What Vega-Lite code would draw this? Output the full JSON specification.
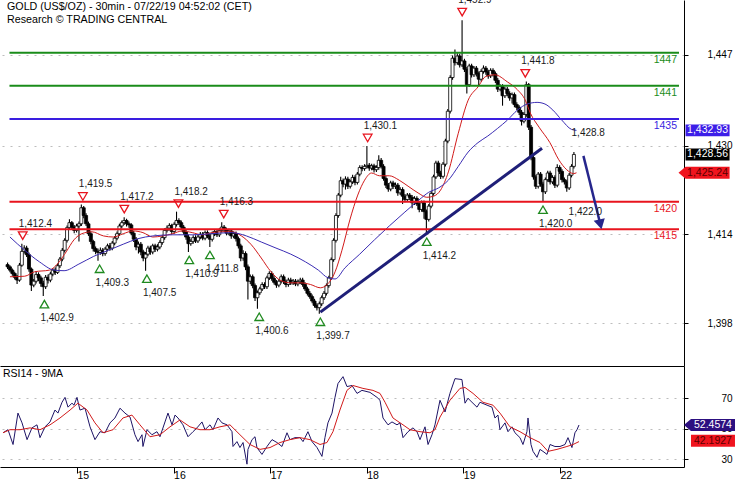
{
"$schema":"https://vega.github.io/schema/vega-lite/v6.json",
"background":"white",
"padding":0,
"spacing":0,
"config":{"view":{"stroke":null},"font":"Liberation Sans","axis":{"labelFont":"Liberation Sans","labelFontSize":10,"labelColor":"#000","domainColor":"#000","tickColor":"#000"}},
"datasets":{
"candles":[
{"t":0.230,"o":1408.6,"h":1409.0,"l":1407.8,"c":1408.2},
{"t":0.255,"o":1408.2,"h":1408.5,"l":1407.2,"c":1407.6},
{"t":0.280,"o":1407.6,"h":1407.9,"l":1406.6,"c":1407.0},
{"t":0.305,"o":1407.0,"h":1407.3,"l":1405.9,"c":1406.3},
{"t":0.330,"o":1406.3,"h":1406.7,"l":1405.1,"c":1405.8},
{"t":0.355,"o":1405.8,"h":1408.9,"l":1405.5,"c":1408.5},
{"t":0.380,"o":1408.5,"h":1412.4,"l":1408.2,"c":1411.0},
{"t":0.405,"o":1411.0,"h":1412.1,"l":1410.6,"c":1411.6},
{"t":0.430,"o":1411.6,"h":1412.0,"l":1410.0,"c":1410.4},
{"t":0.455,"o":1410.4,"h":1410.8,"l":1407.3,"c":1407.8},
{"t":0.480,"o":1407.8,"h":1408.1,"l":1403.8,"c":1404.9},
{"t":0.505,"o":1404.9,"h":1406.0,"l":1404.5,"c":1405.6},
{"t":0.530,"o":1405.6,"h":1407.4,"l":1405.2,"c":1406.8},
{"t":0.555,"o":1406.8,"h":1407.2,"l":1405.6,"c":1406.2},
{"t":0.580,"o":1406.2,"h":1406.6,"l":1404.6,"c":1405.2},
{"t":0.605,"o":1405.2,"h":1405.7,"l":1402.9,"c":1404.6},
{"t":0.630,"o":1404.6,"h":1406.7,"l":1404.2,"c":1406.3},
{"t":0.655,"o":1406.3,"h":1406.8,"l":1405.2,"c":1405.8},
{"t":0.680,"o":1405.8,"h":1407.3,"l":1405.4,"c":1406.9},
{"t":0.705,"o":1406.9,"h":1408.0,"l":1406.5,"c":1407.6},
{"t":0.730,"o":1407.6,"h":1408.1,"l":1406.7,"c":1407.2},
{"t":0.755,"o":1407.2,"h":1408.8,"l":1406.9,"c":1408.4},
{"t":0.780,"o":1408.4,"h":1410.0,"l":1408.0,"c":1409.6},
{"t":0.805,"o":1409.6,"h":1411.6,"l":1409.2,"c":1411.2},
{"t":0.830,"o":1411.2,"h":1413.4,"l":1410.8,"c":1413.0},
{"t":0.855,"o":1413.0,"h":1415.7,"l":1412.6,"c":1415.3},
{"t":0.880,"o":1415.3,"h":1416.8,"l":1414.9,"c":1416.2},
{"t":0.905,"o":1416.2,"h":1416.5,"l":1415.0,"c":1415.4},
{"t":0.930,"o":1415.4,"h":1415.8,"l":1414.3,"c":1414.8},
{"t":0.955,"o":1414.8,"h":1416.0,"l":1414.4,"c":1415.6},
{"t":0.980,"o":1415.6,"h":1416.4,"l":1412.8,"c":1416.0},
{"t":1.005,"o":1416.0,"h":1419.5,"l":1415.6,"c":1418.9},
{"t":1.030,"o":1418.9,"h":1419.2,"l":1417.0,"c":1417.5},
{"t":1.055,"o":1417.5,"h":1417.9,"l":1415.6,"c":1416.0},
{"t":1.080,"o":1416.0,"h":1416.4,"l":1413.8,"c":1414.2},
{"t":1.105,"o":1414.2,"h":1414.6,"l":1412.3,"c":1412.8},
{"t":1.130,"o":1412.8,"h":1413.1,"l":1411.0,"c":1411.5},
{"t":1.155,"o":1411.5,"h":1411.9,"l":1410.5,"c":1411.0},
{"t":1.180,"o":1411.0,"h":1411.5,"l":1409.3,"c":1410.8},
{"t":1.205,"o":1410.8,"h":1411.7,"l":1410.4,"c":1411.2},
{"t":1.230,"o":1411.2,"h":1411.6,"l":1410.1,"c":1410.6},
{"t":1.255,"o":1410.6,"h":1411.8,"l":1410.2,"c":1411.4},
{"t":1.280,"o":1411.4,"h":1412.4,"l":1411.0,"c":1412.0},
{"t":1.305,"o":1412.0,"h":1412.5,"l":1411.1,"c":1411.6},
{"t":1.330,"o":1411.6,"h":1412.9,"l":1411.2,"c":1412.5},
{"t":1.355,"o":1412.5,"h":1413.8,"l":1412.1,"c":1413.4},
{"t":1.380,"o":1413.4,"h":1414.6,"l":1413.0,"c":1414.2},
{"t":1.405,"o":1414.2,"h":1416.0,"l":1413.8,"c":1415.6},
{"t":1.430,"o":1415.6,"h":1416.6,"l":1415.2,"c":1416.2},
{"t":1.455,"o":1416.2,"h":1417.2,"l":1415.8,"c":1416.6},
{"t":1.480,"o":1416.6,"h":1416.9,"l":1415.5,"c":1416.0},
{"t":1.505,"o":1416.0,"h":1416.4,"l":1415.3,"c":1415.8},
{"t":1.530,"o":1415.8,"h":1416.1,"l":1413.9,"c":1414.3},
{"t":1.555,"o":1414.3,"h":1414.7,"l":1412.7,"c":1413.2},
{"t":1.580,"o":1413.2,"h":1413.6,"l":1411.2,"c":1411.8},
{"t":1.605,"o":1411.8,"h":1412.8,"l":1410.6,"c":1412.3},
{"t":1.630,"o":1412.3,"h":1412.7,"l":1410.3,"c":1410.9},
{"t":1.655,"o":1410.9,"h":1411.3,"l":1409.2,"c":1409.8},
{"t":1.680,"o":1409.8,"h":1410.9,"l":1407.5,"c":1410.5},
{"t":1.705,"o":1410.5,"h":1412.0,"l":1410.1,"c":1411.6},
{"t":1.730,"o":1411.6,"h":1412.0,"l":1410.4,"c":1410.9},
{"t":1.755,"o":1410.9,"h":1412.4,"l":1410.5,"c":1412.0},
{"t":1.780,"o":1412.0,"h":1412.4,"l":1410.9,"c":1411.4},
{"t":1.805,"o":1411.4,"h":1412.3,"l":1411.0,"c":1411.8},
{"t":1.830,"o":1411.8,"h":1413.0,"l":1411.4,"c":1412.6},
{"t":1.855,"o":1412.6,"h":1413.9,"l":1412.2,"c":1413.5},
{"t":1.880,"o":1413.5,"h":1415.2,"l":1413.1,"c":1414.8},
{"t":1.905,"o":1414.8,"h":1415.7,"l":1414.4,"c":1415.2},
{"t":1.930,"o":1415.2,"h":1416.1,"l":1414.8,"c":1415.7},
{"t":1.955,"o":1415.7,"h":1416.0,"l":1414.1,"c":1414.6},
{"t":1.980,"o":1414.6,"h":1416.3,"l":1414.2,"c":1415.9},
{"t":2.005,"o":1415.9,"h":1418.2,"l":1415.5,"c":1416.6},
{"t":2.030,"o":1416.6,"h":1417.0,"l":1415.8,"c":1416.2},
{"t":2.055,"o":1416.2,"h":1416.6,"l":1415.0,"c":1415.4},
{"t":2.080,"o":1415.4,"h":1415.8,"l":1414.0,"c":1414.5},
{"t":2.105,"o":1414.5,"h":1414.9,"l":1413.1,"c":1413.6},
{"t":2.130,"o":1413.6,"h":1414.0,"l":1410.9,"c":1412.4},
{"t":2.155,"o":1412.4,"h":1413.2,"l":1412.0,"c":1412.8},
{"t":2.180,"o":1412.8,"h":1413.9,"l":1412.4,"c":1413.5},
{"t":2.205,"o":1413.5,"h":1413.9,"l":1412.5,"c":1412.9},
{"t":2.230,"o":1412.9,"h":1414.0,"l":1412.5,"c":1413.6},
{"t":2.255,"o":1413.6,"h":1414.5,"l":1413.2,"c":1414.1},
{"t":2.280,"o":1414.1,"h":1414.5,"l":1413.0,"c":1413.4},
{"t":2.305,"o":1413.4,"h":1414.8,"l":1413.0,"c":1414.4},
{"t":2.330,"o":1414.4,"h":1414.8,"l":1413.4,"c":1413.8},
{"t":2.355,"o":1413.8,"h":1414.2,"l":1411.8,"c":1413.2},
{"t":2.380,"o":1413.2,"h":1414.6,"l":1412.8,"c":1414.2},
{"t":2.405,"o":1414.2,"h":1415.0,"l":1413.8,"c":1414.6},
{"t":2.430,"o":1414.6,"h":1415.0,"l":1413.6,"c":1414.0},
{"t":2.455,"o":1414.0,"h":1415.2,"l":1413.6,"c":1414.8},
{"t":2.480,"o":1414.8,"h":1416.3,"l":1414.4,"c":1415.4},
{"t":2.505,"o":1415.4,"h":1415.8,"l":1414.5,"c":1414.9},
{"t":2.530,"o":1414.9,"h":1415.3,"l":1413.9,"c":1414.3},
{"t":2.555,"o":1414.3,"h":1415.1,"l":1413.9,"c":1414.7},
{"t":2.580,"o":1414.7,"h":1415.0,"l":1413.3,"c":1413.8},
{"t":2.605,"o":1413.8,"h":1414.6,"l":1413.4,"c":1414.2},
{"t":2.630,"o":1414.2,"h":1414.6,"l":1412.8,"c":1413.3},
{"t":2.655,"o":1413.3,"h":1413.7,"l":1411.5,"c":1412.0},
{"t":2.680,"o":1412.0,"h":1412.4,"l":1409.2,"c":1409.8},
{"t":2.705,"o":1409.8,"h":1411.2,"l":1409.3,"c":1410.6},
{"t":2.730,"o":1410.6,"h":1411.0,"l":1407.6,"c":1408.2},
{"t":2.755,"o":1408.2,"h":1408.6,"l":1402.3,"c":1405.6},
{"t":2.780,"o":1405.6,"h":1406.8,"l":1405.1,"c":1406.4},
{"t":2.805,"o":1406.4,"h":1406.8,"l":1404.3,"c":1404.8},
{"t":2.830,"o":1404.8,"h":1405.2,"l":1402.0,"c":1402.6},
{"t":2.855,"o":1402.6,"h":1403.9,"l":1400.6,"c":1403.5},
{"t":2.880,"o":1403.5,"h":1404.6,"l":1403.1,"c":1404.2},
{"t":2.905,"o":1404.2,"h":1405.4,"l":1403.8,"c":1405.0},
{"t":2.930,"o":1405.0,"h":1405.4,"l":1404.2,"c":1404.6},
{"t":2.955,"o":1404.6,"h":1406.6,"l":1404.2,"c":1406.2},
{"t":2.980,"o":1406.2,"h":1407.4,"l":1405.8,"c":1407.0},
{"t":3.005,"o":1407.0,"h":1407.4,"l":1405.7,"c":1406.1},
{"t":3.030,"o":1406.1,"h":1406.5,"l":1405.0,"c":1405.4},
{"t":3.055,"o":1405.4,"h":1405.8,"l":1404.4,"c":1404.9},
{"t":3.080,"o":1404.9,"h":1406.0,"l":1404.5,"c":1405.6},
{"t":3.105,"o":1405.6,"h":1406.8,"l":1405.2,"c":1406.4},
{"t":3.130,"o":1406.4,"h":1406.8,"l":1405.1,"c":1405.5},
{"t":3.155,"o":1405.5,"h":1405.9,"l":1404.5,"c":1405.0},
{"t":3.180,"o":1405.0,"h":1406.2,"l":1404.6,"c":1405.8},
{"t":3.205,"o":1405.8,"h":1406.2,"l":1404.9,"c":1405.3},
{"t":3.230,"o":1405.3,"h":1406.0,"l":1404.9,"c":1405.6},
{"t":3.255,"o":1405.6,"h":1406.0,"l":1404.7,"c":1405.1},
{"t":3.280,"o":1405.1,"h":1405.9,"l":1404.7,"c":1405.5},
{"t":3.305,"o":1405.5,"h":1406.2,"l":1405.1,"c":1405.8},
{"t":3.330,"o":1405.8,"h":1406.2,"l":1404.6,"c":1405.0},
{"t":3.355,"o":1405.0,"h":1405.4,"l":1403.8,"c":1404.2},
{"t":3.380,"o":1404.2,"h":1404.6,"l":1403.0,"c":1403.4},
{"t":3.405,"o":1403.4,"h":1403.8,"l":1402.4,"c":1402.8},
{"t":3.430,"o":1402.8,"h":1403.2,"l":1401.6,"c":1402.0},
{"t":3.455,"o":1402.0,"h":1402.4,"l":1400.8,"c":1401.2},
{"t":3.480,"o":1401.2,"h":1401.6,"l":1400.3,"c":1400.8},
{"t":3.505,"o":1400.8,"h":1401.9,"l":1399.7,"c":1401.5},
{"t":3.530,"o":1401.5,"h":1403.0,"l":1401.1,"c":1402.6},
{"t":3.555,"o":1402.6,"h":1403.8,"l":1402.2,"c":1403.4},
{"t":3.580,"o":1403.4,"h":1405.2,"l":1403.0,"c":1404.8},
{"t":3.605,"o":1404.8,"h":1406.6,"l":1404.4,"c":1406.2},
{"t":3.630,"o":1406.2,"h":1409.9,"l":1405.8,"c":1409.5},
{"t":3.655,"o":1409.5,"h":1413.4,"l":1409.1,"c":1413.0},
{"t":3.680,"o":1413.0,"h":1417.9,"l":1412.6,"c":1417.5},
{"t":3.705,"o":1417.5,"h":1421.6,"l":1417.1,"c":1421.2},
{"t":3.730,"o":1421.2,"h":1424.5,"l":1420.8,"c":1423.8},
{"t":3.755,"o":1423.8,"h":1424.2,"l":1422.6,"c":1423.2},
{"t":3.780,"o":1423.2,"h":1424.6,"l":1422.2,"c":1424.1},
{"t":3.805,"o":1424.1,"h":1424.5,"l":1422.3,"c":1422.8},
{"t":3.830,"o":1422.8,"h":1424.0,"l":1422.4,"c":1423.6},
{"t":3.855,"o":1423.6,"h":1424.9,"l":1423.2,"c":1424.4},
{"t":3.880,"o":1424.4,"h":1424.8,"l":1423.0,"c":1423.5},
{"t":3.905,"o":1423.5,"h":1425.4,"l":1423.1,"c":1425.0},
{"t":3.930,"o":1425.0,"h":1426.6,"l":1424.6,"c":1426.2},
{"t":3.955,"o":1426.2,"h":1426.6,"l":1425.5,"c":1426.0},
{"t":3.980,"o":1426.0,"h":1426.8,"l":1425.6,"c":1426.4},
{"t":4.005,"o":1426.4,"h":1430.1,"l":1426.0,"c":1426.6},
{"t":4.030,"o":1426.6,"h":1427.0,"l":1425.6,"c":1426.1},
{"t":4.055,"o":1426.1,"h":1426.9,"l":1425.7,"c":1426.5},
{"t":4.080,"o":1426.5,"h":1426.9,"l":1425.3,"c":1425.8},
{"t":4.105,"o":1425.8,"h":1426.6,"l":1425.4,"c":1426.2},
{"t":4.130,"o":1426.2,"h":1428.4,"l":1425.8,"c":1427.5},
{"t":4.155,"o":1427.5,"h":1427.9,"l":1426.0,"c":1426.4},
{"t":4.180,"o":1426.4,"h":1426.8,"l":1423.8,"c":1424.2},
{"t":4.205,"o":1424.2,"h":1424.6,"l":1422.5,"c":1423.0},
{"t":4.230,"o":1423.0,"h":1423.4,"l":1421.8,"c":1422.3},
{"t":4.255,"o":1422.3,"h":1423.8,"l":1421.9,"c":1423.4},
{"t":4.280,"o":1423.4,"h":1423.8,"l":1422.3,"c":1422.8},
{"t":4.305,"o":1422.8,"h":1423.5,"l":1422.3,"c":1423.0},
{"t":4.330,"o":1423.0,"h":1423.4,"l":1421.1,"c":1421.6},
{"t":4.355,"o":1421.6,"h":1422.6,"l":1421.2,"c":1422.2},
{"t":4.380,"o":1422.2,"h":1422.6,"l":1419.6,"c":1421.0},
{"t":4.405,"o":1421.0,"h":1421.4,"l":1419.9,"c":1420.4},
{"t":4.430,"o":1420.4,"h":1421.6,"l":1420.0,"c":1421.2},
{"t":4.455,"o":1421.2,"h":1421.6,"l":1420.3,"c":1420.8},
{"t":4.480,"o":1420.8,"h":1421.2,"l":1418.8,"c":1419.8},
{"t":4.505,"o":1419.8,"h":1421.0,"l":1419.4,"c":1420.6},
{"t":4.530,"o":1420.6,"h":1421.0,"l":1419.2,"c":1419.6},
{"t":4.555,"o":1419.6,"h":1420.0,"l":1418.1,"c":1418.6},
{"t":4.580,"o":1418.6,"h":1420.2,"l":1418.2,"c":1419.8},
{"t":4.605,"o":1419.8,"h":1420.2,"l":1416.9,"c":1418.2},
{"t":4.630,"o":1418.2,"h":1418.6,"l":1414.2,"c":1416.8},
{"t":4.655,"o":1416.8,"h":1419.6,"l":1416.4,"c":1419.2},
{"t":4.680,"o":1419.2,"h":1421.9,"l":1418.8,"c":1421.5},
{"t":4.705,"o":1421.5,"h":1424.9,"l":1421.1,"c":1424.5},
{"t":4.730,"o":1424.5,"h":1427.4,"l":1424.1,"c":1427.0},
{"t":4.755,"o":1427.0,"h":1427.4,"l":1424.6,"c":1425.2},
{"t":4.780,"o":1425.2,"h":1425.6,"l":1424.1,"c":1424.6},
{"t":4.805,"o":1424.6,"h":1427.2,"l":1424.2,"c":1426.8},
{"t":4.830,"o":1426.8,"h":1431.4,"l":1426.4,"c":1431.0},
{"t":4.855,"o":1431.0,"h":1436.8,"l":1430.6,"c":1436.4},
{"t":4.880,"o":1436.4,"h":1442.9,"l":1436.0,"c":1442.5},
{"t":4.905,"o":1442.5,"h":1446.5,"l":1442.1,"c":1446.0},
{"t":4.930,"o":1446.0,"h":1447.6,"l":1444.7,"c":1445.2},
{"t":4.955,"o":1445.2,"h":1446.9,"l":1444.8,"c":1446.4},
{"t":4.980,"o":1446.4,"h":1446.8,"l":1444.3,"c":1444.8},
{"t":5.005,"o":1444.8,"h":1452.9,"l":1444.4,"c":1445.5},
{"t":5.030,"o":1445.5,"h":1445.9,"l":1443.5,"c":1444.0},
{"t":5.055,"o":1444.0,"h":1444.4,"l":1439.6,"c":1441.2},
{"t":5.080,"o":1441.2,"h":1445.0,"l":1440.8,"c":1444.6},
{"t":5.105,"o":1444.6,"h":1445.0,"l":1442.5,"c":1443.0},
{"t":5.130,"o":1443.0,"h":1444.6,"l":1442.6,"c":1444.2},
{"t":5.155,"o":1444.2,"h":1444.6,"l":1442.7,"c":1443.2},
{"t":5.180,"o":1443.2,"h":1443.6,"l":1441.0,"c":1442.2},
{"t":5.205,"o":1442.2,"h":1444.0,"l":1441.8,"c":1443.6},
{"t":5.230,"o":1443.6,"h":1444.7,"l":1443.2,"c":1444.2},
{"t":5.255,"o":1444.2,"h":1444.6,"l":1443.0,"c":1443.5},
{"t":5.280,"o":1443.5,"h":1443.9,"l":1442.3,"c":1442.8},
{"t":5.305,"o":1442.8,"h":1444.2,"l":1442.4,"c":1443.8},
{"t":5.330,"o":1443.8,"h":1444.2,"l":1442.7,"c":1443.2},
{"t":5.355,"o":1443.2,"h":1443.6,"l":1441.5,"c":1442.0},
{"t":5.380,"o":1442.0,"h":1442.4,"l":1439.9,"c":1440.4},
{"t":5.405,"o":1440.4,"h":1441.3,"l":1440.0,"c":1440.9},
{"t":5.430,"o":1440.9,"h":1441.3,"l":1437.4,"c":1439.2},
{"t":5.455,"o":1439.2,"h":1440.8,"l":1438.8,"c":1440.4},
{"t":5.480,"o":1440.4,"h":1440.8,"l":1439.1,"c":1439.6},
{"t":5.505,"o":1439.6,"h":1440.0,"l":1438.3,"c":1438.8},
{"t":5.530,"o":1438.8,"h":1439.8,"l":1437.8,"c":1439.4},
{"t":5.555,"o":1439.4,"h":1439.8,"l":1437.1,"c":1437.6},
{"t":5.580,"o":1437.6,"h":1438.0,"l":1436.6,"c":1437.1},
{"t":5.605,"o":1437.1,"h":1437.5,"l":1435.7,"c":1436.2},
{"t":5.630,"o":1436.2,"h":1436.6,"l":1433.8,"c":1434.6},
{"t":5.655,"o":1434.6,"h":1436.2,"l":1434.2,"c":1435.8},
{"t":5.680,"o":1435.8,"h":1441.8,"l":1435.4,"c":1441.2},
{"t":5.705,"o":1441.2,"h":1441.5,"l":1433.0,"c":1433.5},
{"t":5.730,"o":1433.5,"h":1433.9,"l":1427.5,"c":1428.0},
{"t":5.755,"o":1428.0,"h":1428.4,"l":1424.0,"c":1424.5},
{"t":5.780,"o":1424.5,"h":1424.9,"l":1422.3,"c":1422.8},
{"t":5.805,"o":1422.8,"h":1425.4,"l":1422.4,"c":1425.0},
{"t":5.830,"o":1425.0,"h":1425.4,"l":1422.7,"c":1423.2},
{"t":5.855,"o":1423.2,"h":1423.6,"l":1420.0,"c":1421.8},
{"t":5.880,"o":1421.8,"h":1424.4,"l":1421.4,"c":1424.0},
{"t":5.905,"o":1424.0,"h":1425.6,"l":1423.6,"c":1425.2},
{"t":5.930,"o":1425.2,"h":1425.6,"l":1423.1,"c":1423.6},
{"t":5.955,"o":1423.6,"h":1424.8,"l":1423.2,"c":1424.4},
{"t":5.980,"o":1424.4,"h":1424.8,"l":1422.5,"c":1423.0},
{"t":6.005,"o":1423.0,"h":1426.8,"l":1422.6,"c":1426.2},
{"t":6.030,"o":1426.2,"h":1426.6,"l":1425.0,"c":1425.5},
{"t":6.055,"o":1425.5,"h":1425.9,"l":1423.5,"c":1424.0},
{"t":6.080,"o":1424.0,"h":1424.4,"l":1423.1,"c":1423.6},
{"t":6.105,"o":1423.6,"h":1424.0,"l":1421.8,"c":1422.5},
{"t":6.130,"o":1422.5,"h":1425.2,"l":1422.1,"c":1424.8},
{"t":6.155,"o":1424.8,"h":1426.8,"l":1424.4,"c":1426.4},
{"t":6.180,"o":1426.4,"h":1429.0,"l":1426.0,"c":1428.56}
],
"ma":[
{"t":0.255,"p":1406.4,"kind":"redMA"},{"t":0.410,"p":1406.5,"kind":"redMA"},{"t":0.514,"p":1407.3,"kind":"redMA"},{"t":0.669,"p":1407.6,"kind":"redMA"},{"t":0.772,"p":1409.1,"kind":"redMA"},{"t":0.845,"p":1410.9,"kind":"redMA"},{"t":0.928,"p":1413.1,"kind":"redMA"},{"t":1.010,"p":1414.2,"kind":"redMA"},{"t":1.114,"p":1414.55,"kind":"redMA"},{"t":1.238,"p":1413.8,"kind":"redMA"},{"t":1.342,"p":1413.6,"kind":"redMA"},{"t":1.445,"p":1414.2,"kind":"redMA"},{"t":1.549,"p":1414.7,"kind":"redMA"},{"t":1.652,"p":1414.4,"kind":"redMA"},{"t":1.756,"p":1413.6,"kind":"redMA"},{"t":1.859,"p":1413.8,"kind":"redMA"},{"t":1.963,"p":1414.2,"kind":"redMA"},{"t":2.066,"p":1414.7,"kind":"redMA"},{"t":2.170,"p":1414.4,"kind":"redMA"},{"t":2.273,"p":1414.0,"kind":"redMA"},{"t":2.377,"p":1414.4,"kind":"redMA"},{"t":2.480,"p":1414.55,"kind":"redMA"},{"t":2.584,"p":1414.55,"kind":"redMA"},{"t":2.687,"p":1413.8,"kind":"redMA"},{"t":2.791,"p":1412.2,"kind":"redMA"},{"t":2.895,"p":1409.8,"kind":"redMA"},{"t":2.998,"p":1407.3,"kind":"redMA"},{"t":3.102,"p":1405.7,"kind":"redMA"},{"t":3.205,"p":1405.3,"kind":"redMA"},{"t":3.309,"p":1405.3,"kind":"redMA"},{"t":3.412,"p":1405.0,"kind":"redMA"},{"t":3.516,"p":1404.4,"kind":"redMA"},{"t":3.588,"p":1405.0,"kind":"redMA"},{"t":3.671,"p":1407.3,"kind":"redMA"},{"t":3.743,"p":1411.2,"kind":"redMA"},{"t":3.826,"p":1416.7,"kind":"redMA"},{"t":3.909,"p":1421.2,"kind":"redMA"},{"t":3.981,"p":1423.9,"kind":"redMA"},{"t":4.054,"p":1425.2,"kind":"redMA"},{"t":4.137,"p":1424.7,"kind":"redMA"},{"t":4.240,"p":1424.7,"kind":"redMA"},{"t":4.344,"p":1423.9,"kind":"redMA"},{"t":4.447,"p":1422.7,"kind":"redMA"},{"t":4.551,"p":1421.5,"kind":"redMA"},{"t":4.634,"p":1420.8,"kind":"redMA"},{"t":4.706,"p":1421.0,"kind":"redMA"},{"t":4.779,"p":1422.1,"kind":"redMA"},{"t":4.861,"p":1425.4,"kind":"redMA"},{"t":4.965,"p":1432.4,"kind":"redMA"},{"t":5.069,"p":1438.4,"kind":"redMA"},{"t":5.172,"p":1440.8,"kind":"redMA"},{"t":5.255,"p":1442.7,"kind":"redMA"},{"t":5.348,"p":1443.0,"kind":"redMA"},{"t":5.482,"p":1441.7,"kind":"redMA"},{"t":5.586,"p":1440.3,"kind":"redMA"},{"t":5.669,"p":1438.4,"kind":"redMA"},{"t":5.721,"p":1436.1,"kind":"redMA"},{"t":5.814,"p":1433.5,"kind":"redMA"},{"t":5.928,"p":1430.7,"kind":"redMA"},{"t":6.021,"p":1427.6,"kind":"redMA"},{"t":6.104,"p":1425.8,"kind":"redMA"},{"t":6.176,"p":1425.1,"kind":"redMA"},{"t":6.207,"p":1425.24,"kind":"redMA"},
{"t":0.255,"p":1413.6,"kind":"blueMA"},{"t":0.410,"p":1411.2,"kind":"blueMA"},{"t":0.565,"p":1409.1,"kind":"blueMA"},{"t":0.721,"p":1407.6,"kind":"blueMA"},{"t":0.824,"p":1407.5,"kind":"blueMA"},{"t":0.979,"p":1408.7,"kind":"blueMA"},{"t":1.135,"p":1410.1,"kind":"blueMA"},{"t":1.290,"p":1411.2,"kind":"blueMA"},{"t":1.445,"p":1412.3,"kind":"blueMA"},{"t":1.600,"p":1413.3,"kind":"blueMA"},{"t":1.756,"p":1413.8,"kind":"blueMA"},{"t":1.963,"p":1414.0,"kind":"blueMA"},{"t":2.170,"p":1414.0,"kind":"blueMA"},{"t":2.377,"p":1414.2,"kind":"blueMA"},{"t":2.584,"p":1414.4,"kind":"blueMA"},{"t":2.739,"p":1413.8,"kind":"blueMA"},{"t":2.895,"p":1412.7,"kind":"blueMA"},{"t":3.050,"p":1411.6,"kind":"blueMA"},{"t":3.205,"p":1410.5,"kind":"blueMA"},{"t":3.360,"p":1409.1,"kind":"blueMA"},{"t":3.495,"p":1407.6,"kind":"blueMA"},{"t":3.598,"p":1406.2,"kind":"blueMA"},{"t":3.671,"p":1406.0,"kind":"blueMA"},{"t":3.774,"p":1408.0,"kind":"blueMA"},{"t":3.930,"p":1410.5,"kind":"blueMA"},{"t":4.085,"p":1413.1,"kind":"blueMA"},{"t":4.240,"p":1415.6,"kind":"blueMA"},{"t":4.396,"p":1418.0,"kind":"blueMA"},{"t":4.551,"p":1420.3,"kind":"blueMA"},{"t":4.654,"p":1421.7,"kind":"blueMA"},{"t":4.758,"p":1422.5,"kind":"blueMA"},{"t":4.861,"p":1423.9,"kind":"blueMA"},{"t":4.965,"p":1426.4,"kind":"blueMA"},{"t":5.069,"p":1429.0,"kind":"blueMA"},{"t":5.172,"p":1430.7,"kind":"blueMA"},{"t":5.275,"p":1431.9,"kind":"blueMA"},{"t":5.379,"p":1433.3,"kind":"blueMA"},{"t":5.482,"p":1434.8,"kind":"blueMA"},{"t":5.586,"p":1436.6,"kind":"blueMA"},{"t":5.690,"p":1437.7,"kind":"blueMA"},{"t":5.793,"p":1438.0,"kind":"blueMA"},{"t":5.876,"p":1437.7,"kind":"blueMA"},{"t":5.959,"p":1436.6,"kind":"blueMA"},{"t":6.052,"p":1434.8,"kind":"blueMA"},{"t":6.155,"p":1433.1,"kind":"blueMA"},{"t":6.207,"p":1432.93,"kind":"blueMA"}
],
"levels":[
{"p":1447,"kind":"res","label":"1447"},
{"p":1441,"kind":"res","label":"1441"},
{"p":1435,"kind":"piv","label":"1435"},
{"p":1420,"kind":"sup","label":"1420"},
{"p":1415,"kind":"sup","label":"1415"}
],
"trend":[{"t":3.516,"p":1400.0},{"t":5.845,"p":1429.7}],
"arrow":[{"t":6.280,"p":1428.3},{"t":6.448,"p":1416.6}],
"arrowhead":[{"t":6.458,"p":1415.9}],
"pivots":[
{"t":0.389,"p":1412.4,"label":"1,412.4","kind":"high"},
{"t":1.021,"p":1419.5,"label":"1,419.5","kind":"high"},
{"t":1.456,"p":1417.2,"label":"1,417.2","kind":"high"},
{"t":2.025,"p":1418.2,"label":"1,418.2","kind":"high"},
{"t":2.501,"p":1416.3,"label":"1,416.3","kind":"high"},
{"t":4.013,"p":1430.1,"label":"1,430.1","kind":"high"},
{"t":5.006,"p":1452.9,"label":"1,452.9","kind":"high"},
{"t":5.669,"p":1441.8,"label":"1,441.8","kind":"high"},
{"t":0.617,"p":1402.9,"label":"1,402.9","kind":"low"},
{"t":1.197,"p":1409.3,"label":"1,409.3","kind":"low"},
{"t":1.694,"p":1407.5,"label":"1,407.5","kind":"low"},
{"t":2.139,"p":1410.9,"label":"1,410.9","kind":"low"},
{"t":2.356,"p":1411.8,"label":"1,411.8","kind":"low"},
{"t":2.874,"p":1400.6,"label":"1,400.6","kind":"low"},
{"t":3.516,"p":1399.7,"label":"1,399.7","kind":"low"},
{"t":4.634,"p":1414.2,"label":"1,414.2","kind":"low"},
{"t":5.855,"p":1420.0,"label":"1,420.0","kind":"low"}
],
"notes":[
{"t":0.224,"p":1455.28,"label":"GOLD (US$/OZ) - 30min - 07/22/19 04:52:02 (CET)","kind":"title"},
{"t":0.224,"p":1452.93,"label":"Research © TRADING CENTRAL","kind":"title"},
{"t":6.155,"p":1432.45,"label":"1,428.8","kind":"note"},
{"t":6.124,"p":1418.13,"label":"1,422.0","kind":"note"}
],
"pboxes":[
{"p":1432.93,"label":"1,432.93","kind":"blueBox"},
{"p":1428.56,"label":"1,428.56","kind":"lastBox"},
{"p":1425.24,"label":"1,425.24","kind":"redBox"}
],
"rsi":[
{"t":0.234,"v":47.4,"kind":"rsi"},{"t":0.286,"v":49.4,"kind":"rsi"},{"t":0.338,"v":39.7,"kind":"rsi"},{"t":0.389,"v":60.3,"kind":"rsi"},{"t":0.431,"v":53.9,"kind":"rsi"},{"t":0.483,"v":42.9,"kind":"rsi"},{"t":0.534,"v":50.6,"kind":"rsi"},{"t":0.586,"v":52.6,"kind":"rsi"},{"t":0.617,"v":44.2,"kind":"rsi"},{"t":0.669,"v":51.3,"kind":"rsi"},{"t":0.721,"v":54.5,"kind":"rsi"},{"t":0.772,"v":62.3,"kind":"rsi"},{"t":0.803,"v":60.3,"kind":"rsi"},{"t":0.845,"v":67.4,"kind":"rsi"},{"t":0.876,"v":70.6,"kind":"rsi"},{"t":0.907,"v":64.2,"kind":"rsi"},{"t":0.948,"v":66.8,"kind":"rsi"},{"t":0.969,"v":65.5,"kind":"rsi"},{"t":1.000,"v":70.6,"kind":"rsi"},{"t":1.031,"v":62.3,"kind":"rsi"},{"t":1.083,"v":63.5,"kind":"rsi"},{"t":1.135,"v":51.3,"kind":"rsi"},{"t":1.186,"v":42.9,"kind":"rsi"},{"t":1.238,"v":48.1,"kind":"rsi"},{"t":1.290,"v":47.4,"kind":"rsi"},{"t":1.342,"v":53.9,"kind":"rsi"},{"t":1.393,"v":57.1,"kind":"rsi"},{"t":1.445,"v":63.5,"kind":"rsi"},{"t":1.497,"v":60.3,"kind":"rsi"},{"t":1.549,"v":57.7,"kind":"rsi"},{"t":1.600,"v":46.1,"kind":"rsi"},{"t":1.632,"v":41.6,"kind":"rsi"},{"t":1.673,"v":46.1,"kind":"rsi"},{"t":1.683,"v":38.4,"kind":"rsi"},{"t":1.725,"v":49.4,"kind":"rsi"},{"t":1.776,"v":46.1,"kind":"rsi"},{"t":1.828,"v":48.1,"kind":"rsi"},{"t":1.859,"v":44.8,"kind":"rsi"},{"t":1.911,"v":54.5,"kind":"rsi"},{"t":1.942,"v":60.3,"kind":"rsi"},{"t":1.984,"v":52.6,"kind":"rsi"},{"t":2.015,"v":59.0,"kind":"rsi"},{"t":2.046,"v":57.1,"kind":"rsi"},{"t":2.097,"v":52.6,"kind":"rsi"},{"t":2.149,"v":44.8,"kind":"rsi"},{"t":2.201,"v":48.1,"kind":"rsi"},{"t":2.242,"v":50.6,"kind":"rsi"},{"t":2.294,"v":54.5,"kind":"rsi"},{"t":2.325,"v":49.4,"kind":"rsi"},{"t":2.377,"v":52.6,"kind":"rsi"},{"t":2.408,"v":49.4,"kind":"rsi"},{"t":2.460,"v":57.1,"kind":"rsi"},{"t":2.501,"v":53.9,"kind":"rsi"},{"t":2.553,"v":52.6,"kind":"rsi"},{"t":2.605,"v":48.1,"kind":"rsi"},{"t":2.615,"v":38.4,"kind":"rsi"},{"t":2.656,"v":41.6,"kind":"rsi"},{"t":2.687,"v":37.7,"kind":"rsi"},{"t":2.719,"v":41.0,"kind":"rsi"},{"t":2.760,"v":26.8,"kind":"rsi"},{"t":2.770,"v":36.5,"kind":"rsi"},{"t":2.812,"v":42.9,"kind":"rsi"},{"t":2.843,"v":44.8,"kind":"rsi"},{"t":2.863,"v":37.7,"kind":"rsi"},{"t":2.915,"v":33.2,"kind":"rsi"},{"t":2.967,"v":38.4,"kind":"rsi"},{"t":3.019,"v":42.9,"kind":"rsi"},{"t":3.070,"v":41.0,"kind":"rsi"},{"t":3.122,"v":38.4,"kind":"rsi"},{"t":3.174,"v":47.4,"kind":"rsi"},{"t":3.205,"v":42.9,"kind":"rsi"},{"t":3.257,"v":44.2,"kind":"rsi"},{"t":3.309,"v":44.2,"kind":"rsi"},{"t":3.340,"v":41.6,"kind":"rsi"},{"t":3.391,"v":48.1,"kind":"rsi"},{"t":3.433,"v":41.6,"kind":"rsi"},{"t":3.485,"v":37.7,"kind":"rsi"},{"t":3.536,"v":31.9,"kind":"rsi"},{"t":3.567,"v":44.2,"kind":"rsi"},{"t":3.598,"v":53.9,"kind":"rsi"},{"t":3.640,"v":60.3,"kind":"rsi"},{"t":3.671,"v":70.6,"kind":"rsi"},{"t":3.702,"v":79.7,"kind":"rsi"},{"t":3.754,"v":84.2,"kind":"rsi"},{"t":3.795,"v":77.7,"kind":"rsi"},{"t":3.847,"v":78.4,"kind":"rsi"},{"t":3.899,"v":73.2,"kind":"rsi"},{"t":3.950,"v":75.2,"kind":"rsi"},{"t":4.033,"v":73.9,"kind":"rsi"},{"t":4.106,"v":70.6,"kind":"rsi"},{"t":4.137,"v":68.7,"kind":"rsi"},{"t":4.168,"v":57.1,"kind":"rsi"},{"t":4.220,"v":52.6,"kind":"rsi"},{"t":4.261,"v":54.5,"kind":"rsi"},{"t":4.313,"v":52.6,"kind":"rsi"},{"t":4.344,"v":53.9,"kind":"rsi"},{"t":4.375,"v":44.2,"kind":"rsi"},{"t":4.427,"v":48.1,"kind":"rsi"},{"t":4.478,"v":50.6,"kind":"rsi"},{"t":4.520,"v":48.1,"kind":"rsi"},{"t":4.551,"v":42.9,"kind":"rsi"},{"t":4.603,"v":51.3,"kind":"rsi"},{"t":4.634,"v":39.7,"kind":"rsi"},{"t":4.675,"v":46.1,"kind":"rsi"},{"t":4.706,"v":52.6,"kind":"rsi"},{"t":4.758,"v":68.7,"kind":"rsi"},{"t":4.810,"v":61.0,"kind":"rsi"},{"t":4.861,"v":73.2,"kind":"rsi"},{"t":4.913,"v":82.9,"kind":"rsi"},{"t":4.985,"v":82.3,"kind":"rsi"},{"t":4.996,"v":77.1,"kind":"rsi"},{"t":5.017,"v":66.8,"kind":"rsi"},{"t":5.048,"v":70.0,"kind":"rsi"},{"t":5.089,"v":67.4,"kind":"rsi"},{"t":5.141,"v":64.2,"kind":"rsi"},{"t":5.172,"v":67.4,"kind":"rsi"},{"t":5.245,"v":65.5,"kind":"rsi"},{"t":5.296,"v":64.2,"kind":"rsi"},{"t":5.327,"v":57.1,"kind":"rsi"},{"t":5.358,"v":59.0,"kind":"rsi"},{"t":5.379,"v":49.4,"kind":"rsi"},{"t":5.431,"v":53.9,"kind":"rsi"},{"t":5.462,"v":48.1,"kind":"rsi"},{"t":5.503,"v":51.3,"kind":"rsi"},{"t":5.534,"v":47.4,"kind":"rsi"},{"t":5.586,"v":44.2,"kind":"rsi"},{"t":5.617,"v":39.7,"kind":"rsi"},{"t":5.658,"v":48.1,"kind":"rsi"},{"t":5.669,"v":57.1,"kind":"rsi"},{"t":5.700,"v":39.7,"kind":"rsi"},{"t":5.721,"v":35.2,"kind":"rsi"},{"t":5.762,"v":31.3,"kind":"rsi"},{"t":5.793,"v":36.5,"kind":"rsi"},{"t":5.824,"v":35.2,"kind":"rsi"},{"t":5.866,"v":33.2,"kind":"rsi"},{"t":5.897,"v":39.7,"kind":"rsi"},{"t":5.948,"v":38.4,"kind":"rsi"},{"t":6.000,"v":38.4,"kind":"rsi"},{"t":6.052,"v":39.7,"kind":"rsi"},{"t":6.083,"v":44.2,"kind":"rsi"},{"t":6.124,"v":37.7,"kind":"rsi"},{"t":6.155,"v":47.4,"kind":"rsi"},{"t":6.176,"v":49.4,"kind":"rsi"},{"t":6.197,"v":52.5,"kind":"rsi"},
{"t":0.234,"v":47.4,"kind":"rsima"},{"t":0.306,"v":49.4,"kind":"rsima"},{"t":0.410,"v":49.4,"kind":"rsima"},{"t":0.514,"v":50.6,"kind":"rsima"},{"t":0.617,"v":49.4,"kind":"rsima"},{"t":0.721,"v":52.6,"kind":"rsima"},{"t":0.824,"v":57.1,"kind":"rsima"},{"t":0.928,"v":62.3,"kind":"rsima"},{"t":1.010,"v":66.8,"kind":"rsima"},{"t":1.104,"v":62.3,"kind":"rsima"},{"t":1.186,"v":53.9,"kind":"rsima"},{"t":1.269,"v":47.4,"kind":"rsima"},{"t":1.373,"v":49.4,"kind":"rsima"},{"t":1.476,"v":57.1,"kind":"rsima"},{"t":1.569,"v":59.0,"kind":"rsima"},{"t":1.652,"v":52.6,"kind":"rsima"},{"t":1.756,"v":44.8,"kind":"rsima"},{"t":1.859,"v":46.1,"kind":"rsima"},{"t":1.963,"v":51.3,"kind":"rsima"},{"t":2.066,"v":55.8,"kind":"rsima"},{"t":2.170,"v":51.3,"kind":"rsima"},{"t":2.273,"v":49.4,"kind":"rsima"},{"t":2.377,"v":49.4,"kind":"rsima"},{"t":2.480,"v":51.3,"kind":"rsima"},{"t":2.584,"v":52.6,"kind":"rsima"},{"t":2.687,"v":46.1,"kind":"rsima"},{"t":2.791,"v":39.7,"kind":"rsima"},{"t":2.895,"v":36.5,"kind":"rsima"},{"t":2.998,"v":37.7,"kind":"rsima"},{"t":3.102,"v":41.0,"kind":"rsima"},{"t":3.205,"v":42.9,"kind":"rsima"},{"t":3.309,"v":44.2,"kind":"rsima"},{"t":3.412,"v":42.9,"kind":"rsima"},{"t":3.516,"v":39.7,"kind":"rsima"},{"t":3.588,"v":41.0,"kind":"rsima"},{"t":3.650,"v":48.1,"kind":"rsima"},{"t":3.722,"v":62.3,"kind":"rsima"},{"t":3.795,"v":75.2,"kind":"rsima"},{"t":3.857,"v":78.4,"kind":"rsima"},{"t":3.960,"v":76.5,"kind":"rsima"},{"t":4.064,"v":75.2,"kind":"rsima"},{"t":4.137,"v":73.2,"kind":"rsima"},{"t":4.189,"v":67.4,"kind":"rsima"},{"t":4.271,"v":57.1,"kind":"rsima"},{"t":4.375,"v":52.6,"kind":"rsima"},{"t":4.447,"v":49.4,"kind":"rsima"},{"t":4.551,"v":48.1,"kind":"rsima"},{"t":4.654,"v":47.4,"kind":"rsima"},{"t":4.706,"v":49.4,"kind":"rsima"},{"t":4.758,"v":57.7,"kind":"rsima"},{"t":4.861,"v":68.7,"kind":"rsima"},{"t":4.965,"v":76.5,"kind":"rsima"},{"t":5.017,"v":77.1,"kind":"rsima"},{"t":5.100,"v":73.2,"kind":"rsima"},{"t":5.203,"v":67.4,"kind":"rsima"},{"t":5.306,"v":65.5,"kind":"rsima"},{"t":5.379,"v":60.3,"kind":"rsima"},{"t":5.482,"v":51.3,"kind":"rsima"},{"t":5.586,"v":48.1,"kind":"rsima"},{"t":5.690,"v":44.2,"kind":"rsima"},{"t":5.793,"v":41.0,"kind":"rsima"},{"t":5.876,"v":35.2,"kind":"rsima"},{"t":5.969,"v":36.5,"kind":"rsima"},{"t":6.072,"v":38.4,"kind":"rsima"},{"t":6.135,"v":39.7,"kind":"rsima"},{"t":6.197,"v":41.6,"kind":"rsima"}
],
"rboxes":[
{"v":52.4574,"label":"52.4574","kind":"rsiBox"},
{"v":42.1927,"label":"42.1927","kind":"rsimaBox"}
],
"rnotes":[{"t":0.234,"v":85.9,"label":"RSI14 - 9MA"}]
},
"vconcat":[
{
"width":684,"height":366,
"layer":[
{
"encoding":{
 "x":{"field":"t","type":"quantitative","scale":{"domain":[0.203,7.284],"nice":false,"zero":false},"axis":{"orient":"bottom","labels":false,"ticks":false,"grid":false,"domain":true,"title":null}},
 "y":{"field":"p","type":"quantitative","scale":{"domain":[1390.23,1456.55],"nice":false,"zero":false},"axis":{"orient":"right","values":[1398,1414.1,1430.1,1446.6],"format":",.0f","labelAlign":"right","labelBaseline":"middle","labelPadding":44,"tickSize":4,"grid":true,"gridColor":"#bdbdbd","gridDash":[2,6],"title":null}}
},
"layer":[
{"data":{"name":"candles"},"mark":{"type":"rule","color":"#000","strokeWidth":1.1},
 "encoding":{"y":{"field":"l","type":"quantitative"},"y2":{"field":"h"}}},
{"data":{"name":"candles"},"mark":{"type":"bar","orient":"vertical","size":3,"stroke":"#000","strokeWidth":0.8},
 "encoding":{"y":{"field":"o","type":"quantitative"},"y2":{"field":"c"},
 "fill":{"condition":{"test":"datum.c >= datum.o","value":"#ffffff"},"value":"#000000"}}},
{"data":{"name":"ma"},"mark":{"type":"line","strokeWidth":1,"interpolate":"monotone"},
 "encoding":{"color":{"field":"kind","type":"nominal","legend":null,"scale":{"domain":["res","piv","sup","redMA","blueMA","blueBox","lastBox","redBox","rsi","rsima","rsiBox","rsimaBox"],"range":["#1a8c1a","#3a1ee0","#e8141e","#d11a1a","#3b2db4","#3c1ee8","#000000","#f0141e","#1e1466","#d11a1a","#2c0f80","#f0141e"]}}}}
]
},
{"data":{"name":"levels"},"mark":{"type":"rule","strokeWidth":2},
 "encoding":{"x":{"datum":0.25,"type":"quantitative"},"x2":{"datum":7.284},"y":{"field":"p","type":"quantitative"},
 "color":{"field":"kind","type":"nominal","legend":null,"scale":{"domain":["res","piv","sup","redMA","blueMA","blueBox","lastBox","redBox","rsi","rsima","rsiBox","rsimaBox"],"range":["#1a8c1a","#3a1ee0","#e8141e","#d11a1a","#3b2db4","#3c1ee8","#000000","#f0141e","#1e1466","#d11a1a","#2c0f80","#f0141e"]}}}},
{"data":{"name":"levels"},"mark":{"type":"text","align":"right","baseline":"middle","dy":7,"fontSize":10.5},
 "encoding":{"x":{"datum":7.263,"type":"quantitative"},"y":{"field":"p","type":"quantitative"},"text":{"field":"label","type":"nominal"},
 "color":{"field":"kind","type":"nominal","legend":null,"scale":{"domain":["res","piv","sup","redMA","blueMA","blueBox","lastBox","redBox","rsi","rsima","rsiBox","rsimaBox"],"range":["#1a8c1a","#3a1ee0","#e8141e","#d11a1a","#3b2db4","#3c1ee8","#000000","#f0141e","#1e1466","#d11a1a","#2c0f80","#f0141e"]}}}},
{
"encoding":{
 "x":{"field":"t","type":"quantitative"},
 "y":{"field":"p","type":"quantitative"}
},
"layer":[
{"data":{"name":"trend"},"mark":{"type":"line","color":"#1f1f78","strokeWidth":3},"encoding":{}},
{"data":{"name":"arrow"},"mark":{"type":"line","color":"#26268c","strokeWidth":2.5},"encoding":{}},
{"data":{"name":"arrowhead"},"mark":{"type":"point","shape":"triangle-down","filled":true,"opacity":1,"color":"#26268c","size":130,"angle":-13.5},"encoding":{}},
{"data":{"name":"pivots"},"transform":[{"filter":"datum.kind === 'high'"}],"mark":{"type":"point","shape":"triangle-down","filled":false,"stroke":"#e8141e","strokeWidth":1.3,"size":75,"opacity":1,"yOffset":-8},"encoding":{}},
{"data":{"name":"pivots"},"transform":[{"filter":"datum.kind === 'low'"}],"mark":{"type":"point","shape":"triangle-up","filled":false,"stroke":"#1f8a1f","strokeWidth":1.3,"size":75,"opacity":1,"yOffset":8},"encoding":{}},
{"data":{"name":"pivots"},"transform":[{"filter":"datum.kind === 'high'"}],"mark":{"type":"text","align":"left","baseline":"middle","dx":-4,"dy":-20,"fontSize":10,"color":"#1a1a1a","clip":true},
 "encoding":{"text":{"field":"label","type":"nominal"}}},
{"data":{"name":"pivots"},"transform":[{"filter":"datum.kind === 'low'"}],"mark":{"type":"text","align":"left","baseline":"middle","dx":-4,"dy":22,"fontSize":10,"color":"#1a1a1a"},
 "encoding":{"text":{"field":"label","type":"nominal"}}},
{"data":{"name":"notes"},"transform":[{"filter":"datum.kind === 'title'"}],"mark":{"type":"text","align":"left","baseline":"middle","fontSize":10.7,"color":"#000"},
 "encoding":{"text":{"field":"label","type":"nominal"}}},
{"data":{"name":"notes"},"transform":[{"filter":"datum.kind === 'note'"}],"mark":{"type":"text","align":"left","baseline":"middle","fontSize":10,"color":"#1a1a1a"},
 "encoding":{"text":{"field":"label","type":"nominal"}}}
]
},
{"data":{"name":"pboxes"},"mark":{"type":"point","filled":true,"opacity":1,"size":1936,"strokeWidth":0},
 "encoding":{"x":{"datum":7.584,"type":"quantitative"},"y":{"field":"p","type":"quantitative"},
 "shape":{"field":"kind","type":"nominal","legend":null,"scale":{"domain":["blueBox","lastBox","redBox","rsiBox","rsimaBox"],"range":["M-1,-0.27H1V0.27H-1Z","M-1,-0.27H1V0.27H-1Z","M-1.32,0L-1,-0.27H1V0.27H-1Z","M-1.32,0L-1,-0.27H1V0.27H-1Z","M-1,-0.27H1V0.27H-1Z"]}},
 "color":{"field":"kind","type":"nominal","legend":null,"scale":{"domain":["res","piv","sup","redMA","blueMA","blueBox","lastBox","redBox","rsi","rsima","rsiBox","rsimaBox"],"range":["#1a8c1a","#3a1ee0","#e8141e","#d11a1a","#3b2db4","#3c1ee8","#000000","#f0141e","#1e1466","#d11a1a","#2c0f80","#f0141e"]}}}},
{"data":{"name":"pboxes"},"mark":{"type":"text","align":"center","baseline":"middle","fontSize":10.5},
 "encoding":{"x":{"datum":7.584,"type":"quantitative"},"y":{"field":"p","type":"quantitative"},"text":{"field":"label","type":"nominal"},
 "color":{"condition":{"test":"datum.kind === 'redBox'","value":"#5a0000"},"value":"#ffffff"}}}
]
},
{
"width":684,"height":101,
"layer":[
{
"encoding":{
 "x":{"field":"t","type":"quantitative","scale":{"domain":[0.203,7.284],"nice":false,"zero":false},"axis":{"orient":"bottom","values":[1,2,3,4,5,6],"labelExpr":"['14','15','16','17','18','19','22'][datum.value]","tickSize":6,"labelAlign":"left","labelDx":3,"labelBaseline":"middle","labelPadding":2,"labelFontSize":10.5,"grid":false,"title":null}},
 "y":{"field":"v","type":"quantitative","scale":{"domain":[24.95,91.18],"nice":false,"zero":false},"axis":{"orient":"right","values":[30,50,70],"labelAlign":"right","labelBaseline":"middle","labelPadding":44,"tickSize":4,"grid":true,"gridColor":"#bdbdbd","gridDash":[2,6],"title":null}}
},
"layer":[
{"data":{"name":"rsi"},"mark":{"type":"line","strokeWidth":1},
 "encoding":{"color":{"field":"kind","type":"nominal","legend":null,"scale":{"domain":["res","piv","sup","redMA","blueMA","blueBox","lastBox","redBox","rsi","rsima","rsiBox","rsimaBox"],"range":["#1a8c1a","#3a1ee0","#e8141e","#d11a1a","#3b2db4","#3c1ee8","#000000","#f0141e","#1e1466","#d11a1a","#2c0f80","#f0141e"]}}}},
{"data":{"name":"rnotes"},"mark":{"type":"text","align":"left","baseline":"middle","fontSize":10.5,"color":"#000"},
 "encoding":{"text":{"field":"label","type":"nominal"}}}
]
},
{"data":{"name":"rboxes"},"mark":{"type":"point","filled":true,"opacity":1,"size":1936,"strokeWidth":0},
 "encoding":{"x":{"datum":7.584,"type":"quantitative"},"y":{"field":"v","type":"quantitative"},
 "shape":{"field":"kind","type":"nominal","legend":null,"scale":{"domain":["blueBox","lastBox","redBox","rsiBox","rsimaBox"],"range":["M-1,-0.27H1V0.27H-1Z","M-1,-0.27H1V0.27H-1Z","M-1.32,0L-1,-0.27H1V0.27H-1Z","M-1.32,0L-1,-0.27H1V0.27H-1Z","M-1,-0.27H1V0.27H-1Z"]}},
 "color":{"field":"kind","type":"nominal","legend":null,"scale":{"domain":["res","piv","sup","redMA","blueMA","blueBox","lastBox","redBox","rsi","rsima","rsiBox","rsimaBox"],"range":["#1a8c1a","#3a1ee0","#e8141e","#d11a1a","#3b2db4","#3c1ee8","#000000","#f0141e","#1e1466","#d11a1a","#2c0f80","#f0141e"]}}}},
{"data":{"name":"rboxes"},"mark":{"type":"text","align":"center","baseline":"middle","fontSize":10.5},
 "encoding":{"x":{"datum":7.584,"type":"quantitative"},"y":{"field":"v","type":"quantitative"},"text":{"field":"label","type":"nominal"},
 "color":{"condition":{"test":"datum.kind === 'rsimaBox'","value":"#5a0000"},"value":"#ffffff"}}}
]
}
]
}
